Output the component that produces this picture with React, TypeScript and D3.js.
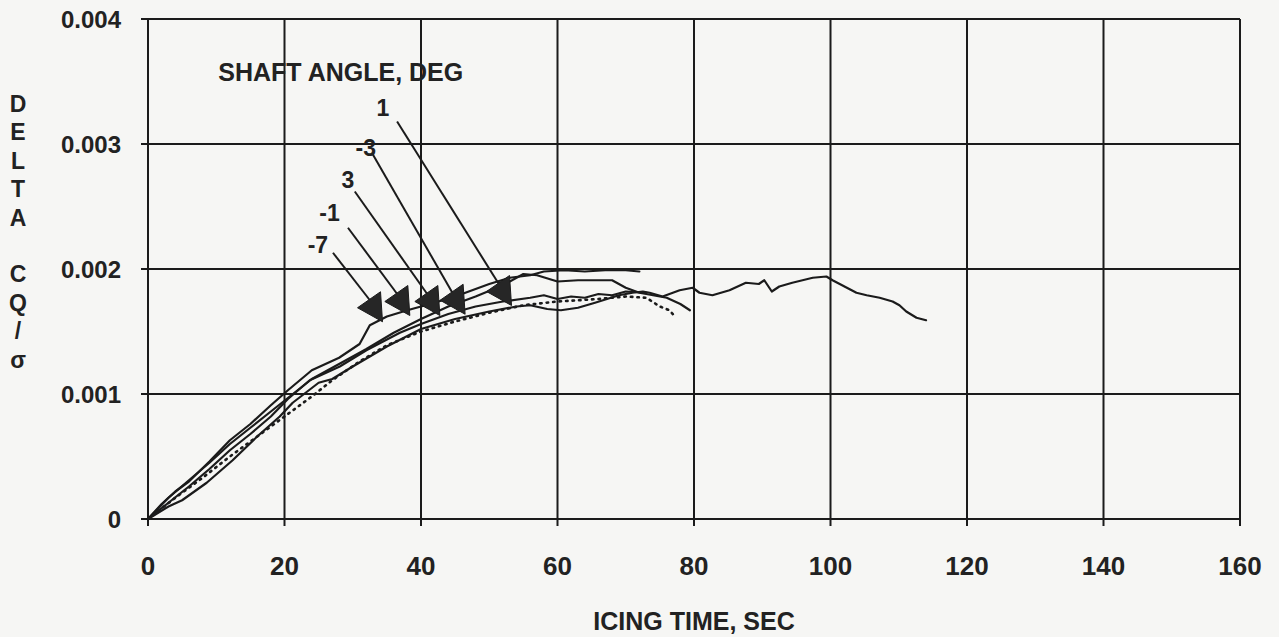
import React from 'react';
import * as d3 from 'd3';

const W = 1279;
const H = 637;

// axes
const xTicks = [0, 20, 40, 60, 80, 100, 120, 140, 160];
const yTicks = [0, 0.001, 0.002, 0.003, 0.004];
const yTickLabels = ['0', '0.001', '0.002', '0.003', '0.004'];
const yTitle = ['D', 'E', 'L', 'T', 'A', '', 'C', 'Q', '/', 'σ'];

// curves: icing time (sec) and delta CQ / sigma in units of 0.001
const tUpper = [0, 2, 4, 6, 9, 12, 15, 18, 20.5, 24, 28, 31, 32.5, 35, 38, 42, 46, 50, 53, 56, 58, 61, 64, 67, 70, 72];
const vUpper = [0, 0.12, 0.22, 0.3, 0.46, 0.63, 0.76, 0.91, 1.03, 1.19, 1.29, 1.4, 1.55, 1.62, 1.67, 1.73, 1.8, 1.88, 1.93, 1.95, 1.98, 1.99, 1.98, 1.99, 1.99, 1.98];

const tSecond = [0, 3, 6, 9, 12, 15, 18, 21, 24, 28, 32, 36, 40, 44, 48, 52, 55, 57, 60, 63, 66, 68, 70, 72, 74, 76, 78, 79.4];
const vSecond = [0, 0.17, 0.31, 0.45, 0.6, 0.73, 0.86, 0.99, 1.12, 1.24, 1.36, 1.49, 1.6, 1.7, 1.78, 1.87, 1.96, 1.95, 1.9, 1.91, 1.91, 1.91, 1.85, 1.81, 1.79, 1.77, 1.72, 1.67];

const tLong = [0, 3, 5, 8.6, 12.4, 16, 19.3, 21.2, 25, 27, 30, 35, 40, 45, 50, 54, 56, 58.5, 60.5, 63, 65.5, 69, 71, 72.5, 73.5, 75.4, 77.9, 79.8, 80.8, 82.7, 85.2, 87.6, 89.5, 90.3, 91.4, 92.5, 94.4, 97.4, 99.4, 100.3, 102.4, 103.8, 105.3, 107.2, 109.1, 110.1, 111.1, 112.6, 114];
const vLong = [0, 0.1, 0.15, 0.29, 0.47, 0.66, 0.82, 0.93, 1.09, 1.12, 1.22, 1.38, 1.52, 1.6, 1.66, 1.7, 1.71, 1.68, 1.67, 1.69, 1.73, 1.79, 1.81, 1.82, 1.81, 1.78, 1.83, 1.85, 1.81, 1.79, 1.83, 1.89, 1.88, 1.91, 1.82, 1.86, 1.89, 1.93, 1.94, 1.91, 1.85, 1.81, 1.79, 1.77, 1.74, 1.71, 1.66, 1.61, 1.59];

const tMiddle = [0, 3, 6, 9, 12, 15, 18, 20.5, 23.7, 28.1, 32, 36.9, 40, 44, 48, 52, 56, 58, 60, 62, 64, 66, 68, 70, 73];
const vMiddle = [0, 0.13, 0.26, 0.4, 0.55, 0.68, 0.82, 0.96, 1.11, 1.22, 1.35, 1.49, 1.56, 1.64, 1.7, 1.74, 1.77, 1.79, 1.76, 1.78, 1.77, 1.8, 1.79, 1.82, 1.81];

const tDotted = [0, 4, 8, 12, 16, 20, 24, 27, 31, 35, 40, 45, 50, 55, 60, 66, 70, 73, 75, 76.4, 77.2];
const vDotted = [0, 0.17, 0.33, 0.5, 0.66, 0.82, 0.98, 1.11, 1.26, 1.39, 1.5, 1.58, 1.65, 1.71, 1.74, 1.76, 1.78, 1.77, 1.7, 1.67, 1.62];

// shaft angle callouts (arrow tip, label, leader start), same units
const calloutNames = ['1', '-3', '3', '-1', '-7'];
const arrowT = [49.6, 42.8, 39.1, 34.7, 30.7];
const arrowV = [1.82, 1.75, 1.74, 1.74, 1.69];
const labelT = [34.4, 31.9, 29.3, 26.6, 24.9];
const labelV = [3.29, 2.97, 2.71, 2.45, 2.19];
const leaderT = [36.5, 32.8, 30.3, 29.3, 27.1];
const leaderV = [3.18, 2.93, 2.62, 2.33, 2.13];

const series = [
  { t: tUpper, v: vUpper, dotted: false },
  { t: tSecond, v: vSecond, dotted: false },
  { t: tMiddle, v: vMiddle, dotted: false },
  { t: tLong, v: vLong, dotted: false },
  { t: tDotted, v: vDotted, dotted: true },
];

const ink = '#1b1b1b';
const font = '"Liberation Sans", Arial, Helvetica, sans-serif';

export default function App() {
  const x = d3.scaleLinear().domain([0, 160]).range([148, 1240]);
  const y = d3.scaleLinear().domain([0, 0.004]).range([519, 19]);

  const line = d3
    .line<[number, number]>()
    .x((d) => x(d[0]))
    .y((d) => y(d[1] * 0.001));

  const txt = { fontFamily: font, fill: '#222', fontWeight: 'bold' as const };

  return (
    <svg width={W} height={H} style={{ position: 'absolute', left: 0, top: 0 }}>
      <rect width={W} height={H} fill="#f6f6f4" />

      {/* grid */}
      {xTicks.map((t) => (
        <line key={'gx' + t} x1={x(t)} x2={x(t)} y1={y(0.004)} y2={y(0) + 7} stroke={ink} strokeWidth={2} />
      ))}
      {yTicks.map((v) => (
        <line key={'gy' + v} x1={x(0) - 7} x2={x(160)} y1={y(v)} y2={y(v)} stroke={ink} strokeWidth={2} />
      ))}

      {/* tick labels */}
      {xTicks.map((t) => (
        <text key={'lx' + t} x={x(t)} y={575} textAnchor="middle" fontSize={26} {...txt}>
          {t}
        </text>
      ))}
      {yTicks.map((v, i) => (
        <text key={'ly' + v} x={121} y={y(v) + 9} textAnchor="end" fontSize={24} {...txt}>
          {yTickLabels[i]}
        </text>
      ))}

      {/* axis titles */}
      <text x={694} y={630} textAnchor="middle" fontSize={25} {...txt}>
        ICING TIME, SEC
      </text>
      {yTitle.map((c, i) => (
        <text key={'yt' + i} x={18} y={112 + i * 28.4} textAnchor="middle" fontSize={23} {...txt}>
          {c}
        </text>
      ))}

      {/* curves */}
      {series.map((s, i) => (
        <path
          key={'s' + i}
          d={line(s.t.map((t, j) => [t, s.v[j]] as [number, number])) || ''}
          fill="none"
          stroke={ink}
          strokeWidth={s.dotted ? 2.6 : 2.2}
          strokeDasharray={s.dotted ? '1.5 5' : undefined}
          strokeLinecap="round"
          strokeLinejoin="round"
        />
      ))}

      {/* legend */}
      <text x={x(10.3)} y={81} fontSize={25} {...txt}>
        SHAFT ANGLE, DEG
      </text>
      {calloutNames.map((name, i) => {
        const tx = x(arrowT[i]);
        const ty = y(arrowV[i] * 0.001);
        return (
          <g key={'c' + name}>
            <line
              x1={x(leaderT[i])}
              y1={y(leaderV[i] * 0.001)}
              x2={tx + 12}
              y2={ty - 8}
              stroke={ink}
              strokeWidth={2}
            />
            <path d={`M${tx},${ty}L${tx + 23},${ty - 16}L${tx + 25},${ty + 14}Z`} fill="#262626" stroke={ink} strokeWidth={1} />
            <text x={x(labelT[i])} y={y(labelV[i] * 0.001) + 8} textAnchor="middle" fontSize={23} {...txt}>
              {name}
            </text>
          </g>
        );
      })}
    </svg>
  );
}
